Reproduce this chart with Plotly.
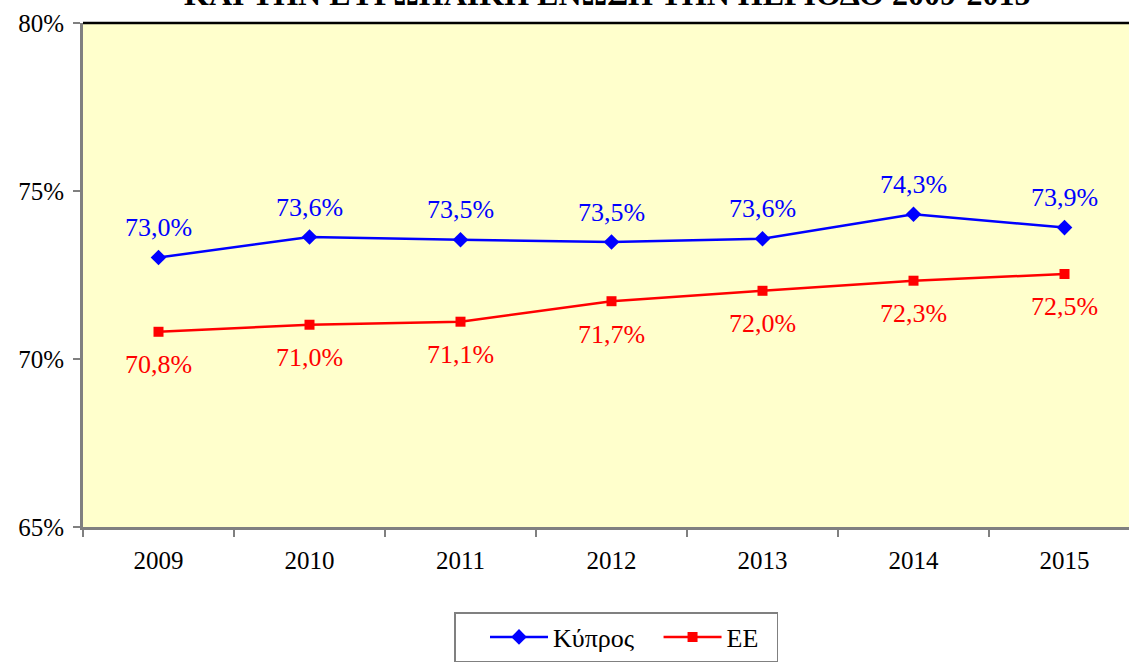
import plotly.graph_objects as go

years = ["2009", "2010", "2011", "2012", "2013", "2014", "2015"]
cyprus = [73.02, 73.63, 73.55, 73.48, 73.58, 74.31, 73.91]
eu = [70.81, 71.02, 71.11, 71.72, 72.03, 72.33, 72.53]
y_ticks = [65, 70, 75, 80]
series_names = ["Κύπρος", "ΕΕ"]
title_text = "ΚΑΙ ΤΗΝ ΕΥΡΩΠΑΪΚΗ ΕΝΩΣΗ ΤΗΝ ΠΕΡΙΟΔΟ 2009-2015"

FONT = "Liberation Serif, Times New Roman, serif"
W, H = 1129, 662
L, T, B = 83, 23, 134
plot_w = W - L
cat_w = 151.0
NB = "\u00a0"

def fmt(v):
    return f"{v:.1f}".replace(".", ",") + "%"

fig = go.Figure()
fig.add_trace(go.Scatter(
    x=years, y=cyprus, name=series_names[0] + NB * 3, mode="lines+markers",
    line=dict(color="#0000FF", width=2.5),
    marker=dict(symbol="diamond", size=12, color="#0000FF"),
))
fig.add_trace(go.Scatter(
    x=years, y=eu, name=series_names[1] + NB * 2, mode="lines+markers",
    line=dict(color="#FF0000", width=2.5),
    marker=dict(symbol="square", size=10, color="#FF0000"),
))

annotations = []
for i, v in enumerate(cyprus):
    annotations.append(dict(x=i, y=v, xref="x", yref="y", text=fmt(v), showarrow=False,
                            yshift=30, font=dict(family=FONT, size=26, color="#0000FF")))
for i, v in enumerate(eu):
    annotations.append(dict(x=i, y=v, xref="x", yref="y", text=fmt(v), showarrow=False,
                            yshift=-33, font=dict(family=FONT, size=26, color="#FF0000")))
annotations.append(dict(x=(607 - L) / plot_w, y=1.017, xref="paper", yref="paper",
                        xanchor="center", yanchor="bottom", text="<b>" + title_text + "</b>",
                        showarrow=False, font=dict(family=FONT, size=32, color="black")))

fig.update_layout(
    width=W, height=H,
    margin=dict(l=L, r=0, t=T, b=B, pad=0),
    paper_bgcolor="white",
    plot_bgcolor="#FFFFCC",
    font=dict(family=FONT, size=25, color="black"),
    annotations=annotations,
    showlegend=True,
    legend=dict(orientation="h", x=(616 - L) / plot_w, xanchor="center",
                y=(528 - 613) / (H - T - B), yanchor="top",
                bordercolor="#808080", borderwidth=1.5, bgcolor="white",
                font=dict(family=FONT, size=26, color="black"),
                itemwidth=58,
                title=dict(text=NB * 3, side="left", font=dict(family=FONT, size=26))),
    shapes=[dict(type="line", xref="paper", yref="paper", x0=0, x1=1, y0=1, y1=1,
                 line=dict(color="black", width=2.5))],
)
fig.update_xaxes(
    type="category", range=[-0.5, -0.5 + plot_w / cat_w],
    showgrid=False, showline=True, linecolor="#808080", linewidth=3,
    ticks="outside", tickson="boundaries", ticklen=7, tickcolor="#808080", tickwidth=2,
    ticklabelstandoff=9,
    tickfont=dict(family=FONT, size=25, color="black"), zeroline=False,
)
fig.update_yaxes(
    range=[65, 80], tickvals=y_ticks, ticktext=[f"{v}%" for v in y_ticks],
    showgrid=False, showline=True, linecolor="#808080", linewidth=3,
    ticks="outside", ticklen=7, tickcolor="#808080", tickwidth=2,
    ticklabelstandoff=4,
    tickfont=dict(family=FONT, size=25, color="black"), zeroline=False,
)

fig.write_html("out.html", config={"displayModeBar": False},
               post_script="document.body.style.margin='0';")
